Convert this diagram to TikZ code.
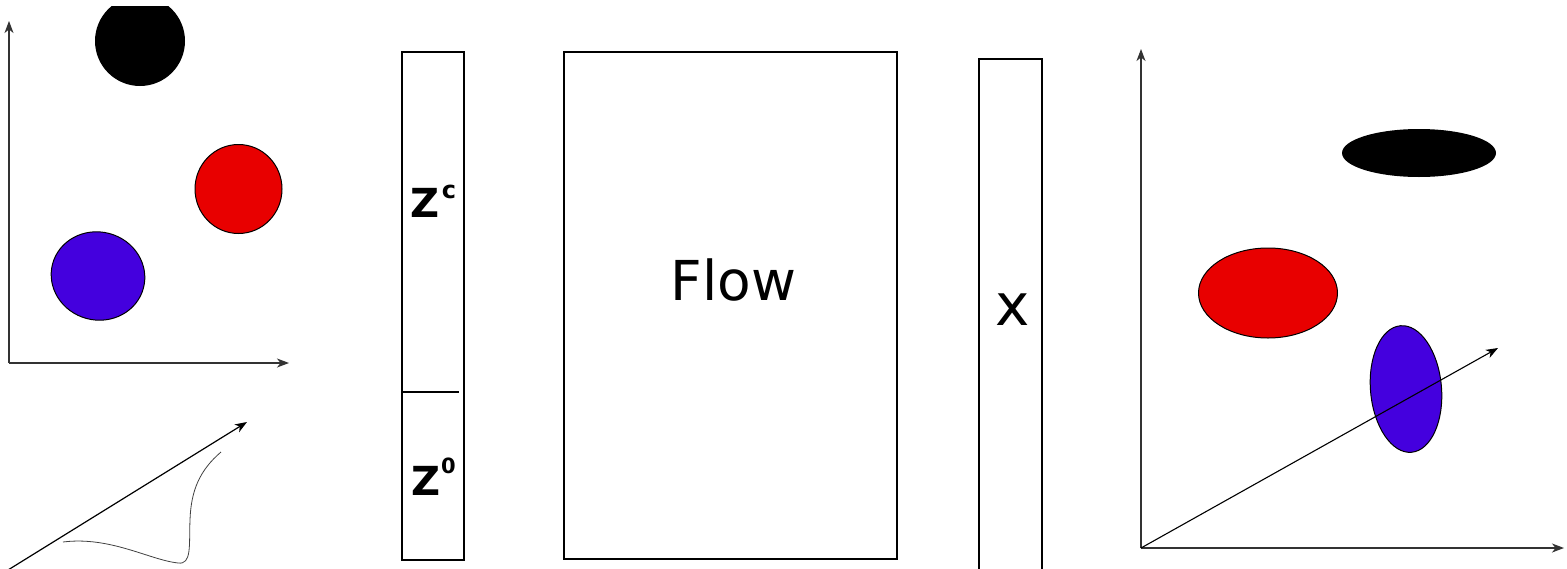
\documentclass[tikz,border=0pt]{standalone}
\usepackage{fontspec}
\setmainfont{DejaVu Sans}
\usetikzlibrary{arrows.meta}
\definecolor{blobred}{HTML}{E80000}
\definecolor{blobblue}{HTML}{4400DE}
\tikzset{
  axis/.style={draw=black!80, line width=1.1pt, -{Stealth[length=12pt,width=9pt,inset=3.5pt]}},
  panel/.style={draw=black, line width=1.5pt, inner sep=0pt, fill=none},
  blob/.style={draw=black, line width=1pt},
  lbl/.style={inner sep=0pt, anchor=base},
}
\begin{document}
\begin{tikzpicture}[x=1pt,y=-1pt]
\useasboundingbox (0,0) rectangle (1567,568);

% ---- latent space (left) ----
\coordinate (lo) at (9,363);
\coordinate (ly) at (9,21);
\coordinate (lx) at (289,363);
\draw[axis] (lo) -- (ly);
\draw[axis] (lo) -- (lx);
\begin{scope}
  \clip (0,6) rectangle (300,200);
  \fill[black] (140,41) ellipse [x radius=45, y radius=45];
\end{scope}
\filldraw[blob, fill=blobred] (238.5,189) ellipse [x radius=43.5, y radius=44.5];
\filldraw[blob, fill=blobblue, rotate around={-15:(98,276)}] (98,276) ellipse [x radius=47, y radius=44];

% ---- 1D direction with a curve ----
\coordinate (bs) at (8,570);
\coordinate (be) at (247,422);
\draw[draw=black, line width=1.2pt, -{Stealth[length=12pt,width=9pt,inset=3.5pt]}] (bs) -- (be);
\draw[black!75, line width=0.8pt] (63,542) .. controls (110,536) and (150,560) .. (178,563)
  .. controls (192,565) and (189,545) .. (190,520)
  .. controls (191,490) and (200,470) .. (221,452);

% ---- latent vector z ----
\node[panel, minimum width=62pt, minimum height=508pt] (zbox) at (433,306) {};
\coordinate (dl) at (402,392);
\coordinate (dr) at (459,392);
\draw[line width=1.2pt] (dl) -- (dr);
\node[lbl] (zc) at (433.5,217) {\fontsize{40}{40}\selectfont\bfseries Z\kern2pt\raisebox{19pt}{\fontsize{24}{24}\selectfont c}};
\node[lbl] (z0) at (433.5,495) {\fontsize{40}{40}\selectfont\bfseries Z\kern1pt\raisebox{22pt}{\fontsize{21}{21}\selectfont 0}};

% ---- flow ----
\node[panel, minimum width=333pt, minimum height=507pt] (flow) at (730.5,305.5) {};
\node[lbl] (flowlbl) at (733.5,300) {\fontsize{55}{55}\selectfont Flow};

% ---- data vector x ----
\coordinate (xb1) at (979,572);
\coordinate (xt1) at (979,59);
\coordinate (xt2) at (1042,59);
\coordinate (xb2) at (1042,572);
\draw[line width=1.5pt] (xb1) -- (xt1) -- (xt2) -- (xb2);
\node[lbl] (xlbl) at (1013,325) {\fontsize{58}{58}\selectfont x};

% ---- data space (right) ----
\coordinate (ro) at (1141,548);
\coordinate (ry) at (1141,49);
\coordinate (rx) at (1564,548);
\coordinate (rd) at (1498,348);
\draw[axis] (ro) -- (ry);
\draw[axis] (ro) -- (rx);
\fill[black] (1419,153) ellipse [x radius=77, y radius=24];
\filldraw[blob, fill=blobred] (1268,293) ellipse [x radius=69.5, y radius=45];
\filldraw[blob, fill=blobblue, rotate around={5:(1406,389)}] (1406,389) ellipse [x radius=35.5, y radius=63.5];
\draw[draw=black, line width=1.1pt, -{Stealth[length=12pt,width=9pt,inset=3.5pt]}] (ro) -- (rd);
\end{tikzpicture}
\end{document}
